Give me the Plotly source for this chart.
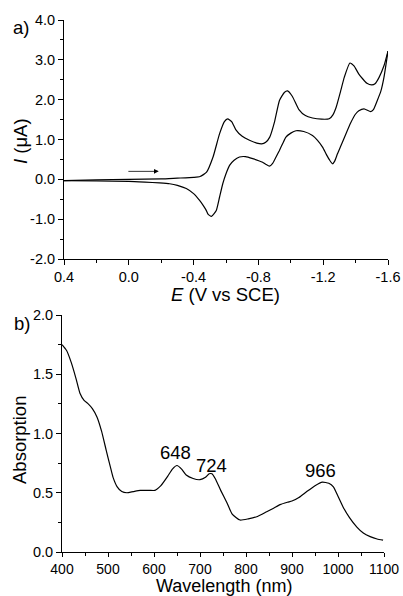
import plotly.graph_objects as go

# ---- Panel a) cyclic voltammogram ----
E_fwd = [0.4, 0.2, 0.0, -0.2, -0.3, -0.4, -0.44, -0.48, -0.52, -0.56, -0.59, -0.61, -0.635, -0.66,
         -0.70, -0.745, -0.79, -0.82, -0.845, -0.87, -0.90, -0.93, -0.96, -0.98, -1.01, -1.05,
         -1.09, -1.134, -1.19, -1.237, -1.26, -1.28, -1.31, -1.33, -1.365, -1.39, -1.42, -1.47,
         -1.50, -1.52, -1.545, -1.575, -1.6]
I_fwd = [-0.03, -0.01, 0.0, 0.01, 0.03, 0.05, 0.07, 0.18, 0.56, 1.14, 1.45, 1.52, 1.45, 1.25,
         1.08, 0.98, 0.91, 0.89, 0.93, 1.06, 1.45, 1.98, 2.18, 2.22, 2.08, 1.75,
         1.60, 1.54, 1.51, 1.52, 1.62, 1.81, 2.25, 2.56, 2.92, 2.85, 2.64, 2.41,
         2.37, 2.40, 2.56, 2.85, 3.22]

E_rev = [-1.6, -1.575, -1.555, -1.534, -1.51, -1.493, -1.452, -1.42, -1.40, -1.37, -1.34, -1.31,
         -1.288, -1.27, -1.258, -1.24, -1.22, -1.196, -1.165, -1.134, -1.08, -1.032, -1.00, -0.97,
         -0.95, -0.929, -0.909, -0.888, -0.868, -0.845, -0.826, -0.765, -0.72, -0.683, -0.65,
         -0.622, -0.60, -0.58, -0.56, -0.54, -0.51, -0.49, -0.478, -0.46, -0.437, -0.40, -0.355,
         -0.30, -0.252, -0.19, -0.1, 0.0, 0.2, 0.4]
I_rev = [3.22, 2.56, 2.2, 1.98, 1.75, 1.70, 1.77, 1.72, 1.64, 1.42, 1.14, 0.85,
         0.64, 0.45, 0.39, 0.48, 0.62, 0.81, 0.98, 1.10, 1.20, 1.22, 1.16, 1.06,
         0.90, 0.72, 0.56, 0.40, 0.33, 0.38, 0.43, 0.52, 0.57, 0.56, 0.48,
         0.35, 0.14, -0.11, -0.45, -0.78, -0.93, -0.88, -0.78, -0.66, -0.53, -0.36, -0.23,
         -0.15, -0.11, -0.09, -0.07, -0.05, -0.04, -0.03]

cv_xticks = [0.4, 0.0, -0.4, -0.8, -1.2, -1.6]
cv_xlabels = ["0.4", "0.0", "-0.4", "-0.8", "-1.2", "-1.6"]
cv_yticks = [-2.0, -1.0, 0.0, 1.0, 2.0, 3.0, 4.0]
cv_ylabels = ["-2.0", "-1.0", "0.0", "1.0", "2.0", "3.0", "4.0"]
arrow_E = [0.012, -0.185]
arrow_I = 0.2

# ---- Panel b) absorption spectrum ----
wavelength = [400, 410, 420, 430, 439, 448, 457, 466, 476, 486, 496, 505, 511, 520, 530, 541,
              555, 570, 590, 602, 615, 630, 640, 650, 660, 670, 685, 700, 712, 720, 726, 733,
              745, 758, 770, 787, 805, 825, 845, 860, 874, 890, 900, 915, 932, 950, 966, 980, 990, 1000,
              1011, 1025, 1041, 1055, 1070, 1085, 1098]
absorption = [1.75, 1.70, 1.60, 1.47, 1.34, 1.28, 1.25, 1.21, 1.14, 1.02, 0.86, 0.72, 0.63, 0.55, 0.51, 0.50,
              0.51, 0.52, 0.52, 0.52, 0.56, 0.64, 0.70, 0.73, 0.70, 0.65, 0.62, 0.61, 0.63, 0.66, 0.66, 0.62,
              0.52, 0.42, 0.32, 0.27, 0.28, 0.30, 0.34, 0.37, 0.40, 0.42, 0.43, 0.46, 0.51, 0.56, 0.59, 0.58, 0.55, 0.47,
              0.38, 0.29, 0.21, 0.16, 0.13, 0.11, 0.10]
ab_xticks = [400, 500, 600, 700, 800, 900, 1000, 1100]
ab_yticks = [0.0, 0.5, 1.0, 1.5, 2.0]
ab_ylabels = ["0.0", "0.5", "1.0", "1.5", "2.0"]
peak_labels = ["648", "724", "966"]
peak_label_x = [646, 726, 961]
peak_label_y = [0.84, 0.73, 0.69]

FONT = "Liberation Sans, Arial, sans-serif"
line_style = dict(color="black", width=1.2, shape="spline", smoothing=0.5)

fig = go.Figure()
fig.add_trace(go.Scatter(x=E_fwd, y=I_fwd, mode="lines", line=line_style, xaxis="x", yaxis="y",
                         showlegend=False, hoverinfo="skip"))
fig.add_trace(go.Scatter(x=E_rev, y=I_rev, mode="lines", line=line_style, xaxis="x", yaxis="y",
                         showlegend=False, hoverinfo="skip"))
fig.add_trace(go.Scatter(x=wavelength, y=absorption, mode="lines", line=line_style, xaxis="x2", yaxis="y2",
                         showlegend=False, hoverinfo="skip"))

axis_common = dict(showline=True, linecolor="black", linewidth=1, mirror=False, ticks="outside",
                   tickwidth=1, tickcolor="black", showgrid=False, zeroline=False,
                   automargin=False)
tick_font = dict(family=FONT, size=14.5, color="black")

fig.update_layout(
    width=403, height=596, margin=dict(l=0, r=0, t=0, b=0, autoexpand=False),
    paper_bgcolor="white", plot_bgcolor="white",
    font=dict(family=FONT, color="black"),
    xaxis=dict(domain=[64/403, 388/403], range=[0.4, -1.6], anchor="y",
               tickvals=cv_xticks, ticktext=cv_xlabels, ticklen=5, tickfont=tick_font,
               minor=dict(ticks="outside", ticklen=3, tickcolor="black", dtick=0.2, tick0=0.0, showgrid=False),
               **axis_common),
    yaxis=dict(domain=[1 - 259/596, 1 - 20/596], range=[-2, 4], anchor="x",
               tickvals=cv_yticks, ticktext=cv_ylabels, ticklen=5, tickfont=tick_font,
               minor=dict(ticks="outside", ticklen=3, tickcolor="black", dtick=0.5, tick0=0, showgrid=False),
               **axis_common),
    xaxis2=dict(domain=[62/403, 384/403], range=[400, 1100], anchor="y2",
                tickvals=ab_xticks, ticklen=4, tickfont=dict(family=FONT, size=14, color="black"),
                minor=dict(ticks="outside", ticklen=3, tickcolor="black", dtick=50, tick0=400, showgrid=False),
                **axis_common),
    yaxis2=dict(domain=[1 - 552/596, 1 - 315/596], range=[0, 2], anchor="x2",
                tickvals=ab_yticks, ticktext=ab_ylabels, ticklen=5, tickfont=tick_font,
                minor=dict(ticks="outside", ticklen=3, tickcolor="black", dtick=0.25, tick0=0, showgrid=False),
                **axis_common),
)

def px2paper(x, y):
    return x / 403, 1 - y / 596

title_font = dict(family=FONT, size=18.5, color="black")
annotations = []
for text, (cx, cy), ang, fs in [
    ("a)", (21, 27), 0, 18.5),
    ("b)", (22, 323), 0, 18.5),
    ("<i>E</i> (V vs SCE)", (226, 294), 0, 18.5),
    ("<i>I</i> (μA)", (20, 141), -90, 18.5),
    ("Wavelength (nm)", (224, 585.5), 0, 18),
    ("Absorption", (19, 440), -90, 18.5),
]:
    px_, py_ = px2paper(cx, cy)
    annotations.append(dict(text=text, x=px_, y=py_, xref="paper", yref="paper",
                            xanchor="center", yanchor="middle", textangle=ang, borderpad=0,
                            showarrow=False, font=dict(family=FONT, size=fs, color="black")))

annotations.append(dict(text="", x=arrow_E[1], y=arrow_I, ax=arrow_E[0], ay=arrow_I,
                        xref="x", yref="y", axref="x", ayref="y",
                        showarrow=True, arrowhead=2, arrowsize=1.2, arrowwidth=0.8, arrowcolor="black"))
for t, px, py in zip(peak_labels, peak_label_x, peak_label_y):
    annotations.append(dict(text=t, x=px, y=py, xref="x2", yref="y2", showarrow=False,
                            xanchor="center", yanchor="middle", font=title_font))
fig.update_layout(annotations=annotations)

fig.write_html("out.html", config={"displayModeBar": False},
               post_script="document.body.style.margin='0';document.body.style.overflow='hidden';")
